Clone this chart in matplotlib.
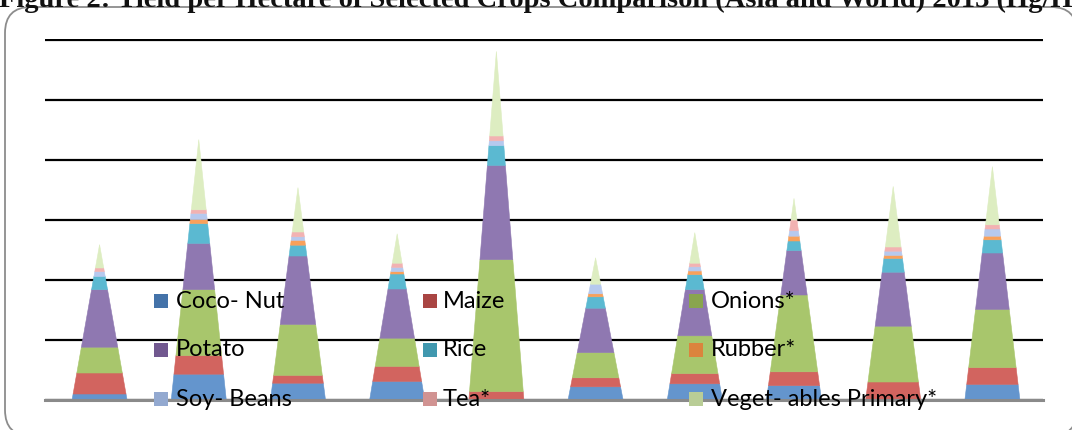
import matplotlib
matplotlib.use("Agg")
import matplotlib.pyplot as plt
from matplotlib.patches import FancyBboxPatch, Rectangle
from matplotlib.transforms import IdentityTransform

# Yield per hectare (Hg/Ha), one value per country/region group
groups = ["G1", "G2", "G3", "G4", "G5", "G6", "G7", "G8", "G9", "G10"]
coco_nut = [10000, 43000, 28000, 31000, 0, 22000, 27000, 24000, 0, 26000]
maize = [35000, 31000, 13000, 25000, 14000, 15000, 17000, 23000, 30000, 28000]
onions = [43000, 110000, 85000, 47000, 220000, 42000, 63000, 128000, 93000, 97000]
potato = [96000, 77000, 114000, 82000, 157000, 74000, 77000, 74000, 90000, 94000]
rice = [22000, 33000, 18000, 25000, 33000, 19000, 25000, 16000, 23000, 22000]
rubber = [0, 7000, 8000, 4000, 0, 5000, 6000, 8000, 5000, 6000]
soy_beans = [8000, 10000, 6000, 7000, 8000, 16000, 7000, 9000, 7000, 12000]
tea = [6000, 6000, 8000, 7000, 8000, 0, 6000, 18000, 7000, 7000]
veg_primary = [39000, 117000, 74000, 49000, 141000, 44000, 51000, 36000, 101000, 97000]

series_names = ["Coco- Nut", "Maize", "Onions*", "Potato", "Rice", "Rubber*",
                "Soy- Beans", "Tea*", "Veget- ables Primary*"]
series_values = [coco_nut, maize, onions, potato, rice, rubber, soy_beans, tea, veg_primary]

title = "Figure 2: Yield per Hectare of Selected Crops Comparison (Asia and World) 2013 (Hg/Ha)"

cone_colors = ["#6495CD", "#D2645F", "#A8C66C", "#8F78B1", "#5BB9D1",
               "#F9A05A", "#B6C9EE", "#F2B2B2", "#DDEDC1"]
legend_colors = ["#4473A9", "#A94543", "#89A54E", "#71588F", "#4198AF",
                 "#DB843D", "#93A9D0", "#D19392", "#B9CD96"]

W, H = 1072, 430
fig = plt.figure(figsize=(W / 100, H / 100), dpi=100)


def fx(px):
    return px / W


def fy(py):
    return 1 - py / H


# rounded outer frame, laid out in output pixels
frame = FancyBboxPatch((5, H - 436), 1077 - 5, 436 - 7,
                       boxstyle="round,pad=0,rounding_size=26",
                       transform=IdentityTransform(), facecolor="white",
                       edgecolor="#8C8C8C", linewidth=1.3, zorder=0)
fig.add_artist(frame)

fig.text(fx(-1), fy(7), title, fontsize=20.5, fontweight="bold",
         family="Liberation Serif", va="baseline", ha="left", color="#111111")

ymax = 602000
top_px = 400 - 6.02 * 60
ax = fig.add_axes([fx(45), fy(400), fx(1043 - 45), (400 - top_px) / H])
ax.set_xlim(-0.55, 9.51)
ax.set_ylim(0, ymax)
ax.patch.set_alpha(0)

ax.set_yticks(range(0, 600001, 100000))
ax.yaxis.grid(True, color="black", linewidth=1.6, zorder=0)
ax.set_axisbelow(True)
ax.tick_params(left=False, bottom=False, labelleft=False, labelbottom=False)
for side in ["left", "right", "top"]:
    ax.spines[side].set_visible(False)
ax.spines["bottom"].set_color("#8A8A8A")
ax.spines["bottom"].set_linewidth(2.2)
ax.spines["bottom"].set_zorder(5)

cone_width = 0.555
for i in range(len(groups)):
    vals = [s[i] for s in series_values]
    total = sum(vals)
    base = 0
    for v, c in zip(vals, cone_colors):
        if v <= 0:
            continue
        y0, y1 = base, base + v
        hw0 = cone_width / 2 * (1 - y0 / total)
        hw1 = cone_width / 2 * (1 - y1 / total)
        ax.fill([i - hw0, i + hw0, i + hw1, i - hw1], [y0, y0, y1, y1],
                color=c, linewidth=0.4, edgecolor=c, zorder=3)
        base = y1

# legend laid out in three columns inside the plot area
col_marker_x = [154, 423, 689]
col_text_x = [176, 443, 711]
row_y = [301, 350, 399]
msize = 14
for k, (name, col) in enumerate(zip(series_names, legend_colors)):
    r, c = divmod(k, 3)
    fig.add_artist(Rectangle((fx(col_marker_x[c]), fy(row_y[r] + msize / 2)),
                             fx(msize), msize / H, transform=fig.transFigure,
                             facecolor=col, edgecolor="none", zorder=6))
    fig.text(fx(col_text_x[c]), fy(row_y[r]), name, fontsize=17,
             family="Lato", va="center", ha="left", color="black", zorder=7)

fig.savefig("out.png", dpi=100)
